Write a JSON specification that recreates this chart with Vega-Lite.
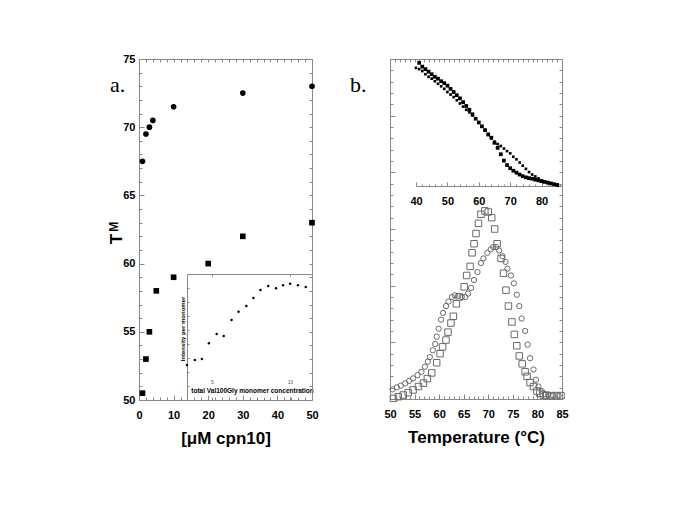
{
  "$schema": "https://vega.github.io/schema/vega-lite/v6.json",
  "width": 685,
  "height": 513,
  "autosize": {"type": "none"},
  "padding": 0,
  "background": "white",
  "config": {
    "view": {"stroke": null},
    "axis": {"domainColor": "#888", "tickColor": "#888", "labelColor": "#000", "labelFont": "Liberation Sans", "labelFontWeight": "bold", "labelFontSize": 11, "titleFont": "Liberation Sans", "titleFontWeight": "bold", "titleColor": "#000", "grid": false, "labelFlush": false, "labelOverlap": false, "minExtent": 0}
  },
  "datasets": {
    "pa": [
      {"c": 1, "tm": 67.5, "s": "A"}, {"c": 2, "tm": 69.5, "s": "A"}, {"c": 3, "tm": 70, "s": "A"}, {"c": 4, "tm": 70.5, "s": "A"}, {"c": 10, "tm": 71.5, "s": "A"}, {"c": 30, "tm": 72.5, "s": "A"}, {"c": 50, "tm": 73, "s": "A"},
      {"c": 1, "tm": 50.5, "s": "B"}, {"c": 2, "tm": 53, "s": "B"}, {"c": 3, "tm": 55, "s": "B"}, {"c": 5, "tm": 58, "s": "B"}, {"c": 10, "tm": 59, "s": "B"}, {"c": 20, "tm": 60, "s": "B"}, {"c": 30, "tm": 62, "s": "B"}, {"c": 50, "tm": 63, "s": "B"}
    ],
    "pai": [
      {"x": 3.4, "y": 2.5}, {"x": 3.9, "y": 2.86}, {"x": 4.35, "y": 2.93}, {"x": 4.8, "y": 4.05}, {"x": 5.3, "y": 4.71}, {"x": 5.75, "y": 4.57}, {"x": 6.25, "y": 5.71}, {"x": 6.7, "y": 6.31}, {"x": 7.2, "y": 6.71}, {"x": 7.65, "y": 7.29}, {"x": 8.1, "y": 7.86}, {"x": 8.6, "y": 8.14}, {"x": 9.1, "y": 7.98}, {"x": 9.55, "y": 8.19}, {"x": 10.0, "y": 8.31}, {"x": 10.5, "y": 8.19}, {"x": 11.0, "y": 8.07}
    ],
    "pb": [
      {"t": 50.7, "v": 0.06, "s": "sq"}, {"t": 51.7, "v": 0.2, "s": "sq"}, {"t": 52.7, "v": 0.35, "s": "sq"}, {"t": 53.7, "v": 0.56, "s": "sq"}, {"t": 54.7, "v": 0.8, "s": "sq"}, {"t": 55.8, "v": 1.1, "s": "sq"}, {"t": 56.8, "v": 1.4, "s": "sq"}, {"t": 57.6, "v": 1.8, "s": "sq"}, {"t": 58.5, "v": 2.3, "s": "sq"}, {"t": 59.5, "v": 3.2, "s": "sq"}, {"t": 60.2, "v": 4.0, "s": "sq"}, {"t": 60.7, "v": 4.6, "s": "sq"}, {"t": 61.4, "v": 5.2, "s": "sq"}, {"t": 61.8, "v": 5.9, "s": "sq"}, {"t": 62.4, "v": 6.7, "s": "sq"}, {"t": 62.9, "v": 7.3, "s": "sq"}, {"t": 63.5, "v": 8.4, "s": "sq"}, {"t": 64.1, "v": 9.0, "s": "sq"}, {"t": 65.1, "v": 9.9, "s": "sq"}, {"t": 65.6, "v": 10.9, "s": "sq"}, {"t": 66.3, "v": 11.7, "s": "sq"}, {"t": 66.7, "v": 12.9, "s": "sq"}, {"t": 67.1, "v": 13.7, "s": "sq"}, {"t": 67.5, "v": 14.6, "s": "sq"}, {"t": 68.0, "v": 15.5, "s": "sq"}, {"t": 68.5, "v": 16.3, "s": "sq"}, {"t": 69.3, "v": 16.6, "s": "sq"}, {"t": 70.0, "v": 16.5, "s": "sq"}, {"t": 70.7, "v": 16.0, "s": "sq"}, {"t": 71.3, "v": 15.0, "s": "sq"}, {"t": 71.8, "v": 13.7, "s": "sq"}, {"t": 72.6, "v": 12.4, "s": "sq"}, {"t": 73.1, "v": 11.1, "s": "sq"}, {"t": 73.6, "v": 9.6, "s": "sq"}, {"t": 74.1, "v": 8.2, "s": "sq"}, {"t": 74.8, "v": 6.8, "s": "sq"}, {"t": 75.3, "v": 5.7, "s": "sq"}, {"t": 75.8, "v": 4.7, "s": "sq"}, {"t": 76.3, "v": 3.8, "s": "sq"}, {"t": 76.9, "v": 3.1, "s": "sq"}, {"t": 77.5, "v": 2.4, "s": "sq"}, {"t": 77.9, "v": 2.0, "s": "sq"}, {"t": 78.5, "v": 1.45, "s": "sq"}, {"t": 79.2, "v": 1.1, "s": "sq"}, {"t": 79.9, "v": 0.7, "s": "sq"}, {"t": 80.5, "v": 0.5, "s": "sq"}, {"t": 81.2, "v": 0.35, "s": "sq"}, {"t": 81.9, "v": 0.3, "s": "sq"}, {"t": 82.9, "v": 0.3, "s": "sq"}, {"t": 83.9, "v": 0.3, "s": "sq"}, {"t": 84.8, "v": 0.3, "s": "sq"},
      {"t": 50.5, "v": 0.85, "s": "ci"}, {"t": 51.4, "v": 1.03, "s": "ci"}, {"t": 52.2, "v": 1.18, "s": "ci"}, {"t": 53.1, "v": 1.38, "s": "ci"}, {"t": 53.9, "v": 1.6, "s": "ci"}, {"t": 54.7, "v": 1.82, "s": "ci"}, {"t": 55.6, "v": 2.1, "s": "ci"}, {"t": 56.4, "v": 2.4, "s": "ci"}, {"t": 57.1, "v": 2.85, "s": "ci"}, {"t": 57.7, "v": 3.3, "s": "ci"}, {"t": 58.1, "v": 3.7, "s": "ci"}, {"t": 58.7, "v": 4.3, "s": "ci"}, {"t": 59.2, "v": 4.85, "s": "ci"}, {"t": 59.5, "v": 5.5, "s": "ci"}, {"t": 59.9, "v": 6.2, "s": "ci"}, {"t": 60.4, "v": 7.0, "s": "ci"}, {"t": 60.8, "v": 7.6, "s": "ci"}, {"t": 61.4, "v": 8.2, "s": "ci"}, {"t": 61.9, "v": 8.6, "s": "ci"}, {"t": 62.6, "v": 9.0, "s": "ci"}, {"t": 63.2, "v": 9.15, "s": "ci"}, {"t": 63.9, "v": 9.1, "s": "ci"}, {"t": 64.6, "v": 9.0, "s": "ci"}, {"t": 65.3, "v": 9.0, "s": "ci"}, {"t": 65.9, "v": 9.3, "s": "ci"}, {"t": 66.5, "v": 9.8, "s": "ci"}, {"t": 67.1, "v": 10.5, "s": "ci"}, {"t": 67.8, "v": 11.2, "s": "ci"}, {"t": 68.5, "v": 12.0, "s": "ci"}, {"t": 69.0, "v": 12.4, "s": "ci"}, {"t": 69.8, "v": 12.9, "s": "ci"}, {"t": 70.5, "v": 13.2, "s": "ci"}, {"t": 71.0, "v": 13.4, "s": "ci"}, {"t": 71.6, "v": 13.4, "s": "ci"}, {"t": 72.2, "v": 13.1, "s": "ci"}, {"t": 72.9, "v": 12.6, "s": "ci"}, {"t": 73.5, "v": 12.1, "s": "ci"}, {"t": 73.9, "v": 11.5, "s": "ci"}, {"t": 74.6, "v": 10.9, "s": "ci"}, {"t": 75.2, "v": 10.2, "s": "ci"}, {"t": 75.8, "v": 9.2, "s": "ci"}, {"t": 76.3, "v": 8.2, "s": "ci"}, {"t": 76.8, "v": 7.1, "s": "ci"}, {"t": 77.5, "v": 6.0, "s": "ci"}, {"t": 78.0, "v": 4.8, "s": "ci"}, {"t": 78.5, "v": 3.6, "s": "ci"}, {"t": 79.2, "v": 2.6, "s": "ci"}, {"t": 79.7, "v": 1.7, "s": "ci"}, {"t": 80.2, "v": 1.1, "s": "ci"}, {"t": 80.9, "v": 0.7, "s": "ci"}, {"t": 81.5, "v": 0.45, "s": "ci"}, {"t": 82.2, "v": 0.4, "s": "ci"}, {"t": 83.2, "v": 0.3, "s": "ci"}, {"t": 84.3, "v": 0.3, "s": "ci"}
    ],
    "pbt": [
      {"t": 41, "v": 0.97, "s": "A"}, {"t": 42, "v": 0.94, "s": "A"}, {"t": 43, "v": 0.92, "s": "A"}, {"t": 44, "v": 0.9, "s": "A"}, {"t": 45, "v": 0.88, "s": "A"}, {"t": 46, "v": 0.86, "s": "A"}, {"t": 47, "v": 0.845, "s": "A"}, {"t": 48, "v": 0.825, "s": "A"}, {"t": 49, "v": 0.81, "s": "A"}, {"t": 50, "v": 0.79, "s": "A"}, {"t": 51, "v": 0.765, "s": "A"}, {"t": 52, "v": 0.74, "s": "A"}, {"t": 53, "v": 0.715, "s": "A"}, {"t": 54, "v": 0.69, "s": "A"}, {"t": 55, "v": 0.66, "s": "A"}, {"t": 56, "v": 0.63, "s": "A"}, {"t": 57, "v": 0.6, "s": "A"}, {"t": 58, "v": 0.565, "s": "A"}, {"t": 59, "v": 0.53, "s": "A"}, {"t": 60, "v": 0.5, "s": "A"}, {"t": 61, "v": 0.47, "s": "A"}, {"t": 62, "v": 0.44, "s": "A"}, {"t": 63, "v": 0.405, "s": "A"}, {"t": 64, "v": 0.38, "s": "A"}, {"t": 65, "v": 0.34, "s": "A"}, {"t": 66, "v": 0.3, "s": "A"}, {"t": 67, "v": 0.25, "s": "A"}, {"t": 68, "v": 0.2, "s": "A"}, {"t": 69, "v": 0.165, "s": "A"}, {"t": 70, "v": 0.14, "s": "A"}, {"t": 71, "v": 0.12, "s": "A"}, {"t": 72, "v": 0.105, "s": "A"}, {"t": 73, "v": 0.09, "s": "A"}, {"t": 74, "v": 0.077, "s": "A"}, {"t": 75, "v": 0.068, "s": "A"}, {"t": 76, "v": 0.062, "s": "A"}, {"t": 77, "v": 0.057, "s": "A"}, {"t": 78, "v": 0.05, "s": "A"}, {"t": 79, "v": 0.044, "s": "A"}, {"t": 80, "v": 0.038, "s": "A"}, {"t": 81, "v": 0.032, "s": "A"}, {"t": 82, "v": 0.026, "s": "A"}, {"t": 83, "v": 0.02, "s": "A"}, {"t": 84, "v": 0.014, "s": "A"}, {"t": 85, "v": 0.008, "s": "A"},
      {"t": 40, "v": 0.93, "s": "B"}, {"t": 41, "v": 0.92, "s": "B"}, {"t": 42, "v": 0.905, "s": "B"}, {"t": 43, "v": 0.88, "s": "B"}, {"t": 44, "v": 0.86, "s": "B"}, {"t": 45, "v": 0.845, "s": "B"}, {"t": 46, "v": 0.825, "s": "B"}, {"t": 47, "v": 0.805, "s": "B"}, {"t": 48, "v": 0.785, "s": "B"}, {"t": 49, "v": 0.765, "s": "B"}, {"t": 50, "v": 0.74, "s": "B"}, {"t": 51, "v": 0.72, "s": "B"}, {"t": 52, "v": 0.7, "s": "B"}, {"t": 53, "v": 0.675, "s": "B"}, {"t": 54, "v": 0.65, "s": "B"}, {"t": 55, "v": 0.625, "s": "B"}, {"t": 56, "v": 0.6, "s": "B"}, {"t": 57, "v": 0.58, "s": "B"}, {"t": 58, "v": 0.555, "s": "B"}, {"t": 59, "v": 0.53, "s": "B"}, {"t": 60, "v": 0.5, "s": "B"}, {"t": 61, "v": 0.47, "s": "B"}, {"t": 62, "v": 0.44, "s": "B"}, {"t": 63, "v": 0.41, "s": "B"}, {"t": 64, "v": 0.375, "s": "B"}, {"t": 65, "v": 0.35, "s": "B"}, {"t": 66, "v": 0.33, "s": "B"}, {"t": 67, "v": 0.315, "s": "B"}, {"t": 68, "v": 0.295, "s": "B"}, {"t": 69, "v": 0.275, "s": "B"}, {"t": 70, "v": 0.257, "s": "B"}, {"t": 71, "v": 0.23, "s": "B"}, {"t": 72, "v": 0.21, "s": "B"}, {"t": 73, "v": 0.185, "s": "B"}, {"t": 74, "v": 0.16, "s": "B"}, {"t": 75, "v": 0.135, "s": "B"}, {"t": 76, "v": 0.11, "s": "B"}, {"t": 77, "v": 0.09, "s": "B"}, {"t": 78, "v": 0.075, "s": "B"}, {"t": 79, "v": 0.06, "s": "B"}, {"t": 80, "v": 0.045, "s": "B"}, {"t": 81, "v": 0.035, "s": "B"}, {"t": 82, "v": 0.025, "s": "B"}, {"t": 83, "v": 0.018, "s": "B"}, {"t": 84, "v": 0.012, "s": "B"}, {"t": 85, "v": 0.008, "s": "B"}
    ]
  },
  "resolve": {
    "scale": {"x": "independent", "y": "independent", "shape": "independent", "size": "independent"},
    "axis": {"x": "independent", "y": "independent"}
  },
  "layer": [
    {
      "data": {"name": "pa"},
      "mark": {"type": "point", "filled": true, "color": "#000", "opacity": 1, "size": 32},
      "encoding": {
        "x": {"field": "c", "type": "quantitative", "scale": {"domain": [0, 50], "range": [139, 312], "nice": false, "zero": false},
          "axis": {"orient": "bottom", "offset": -113, "values": [0, 10, 20, 30, 40, 50], "tickSize": -5, "labelPadding": 14, "title": "[μM cpn10]", "titleFontSize": 17, "titlePadding": 10}},
        "y": {"field": "tm", "type": "quantitative", "scale": {"domain": [50, 75], "range": [400, 59], "nice": false, "zero": false},
          "axis": {"orient": "left", "offset": -139, "values": [50, 55, 60, 65, 70, 75], "tickSize": -5, "labelPadding": 9, "title": null}},
        "shape": {"field": "s", "type": "nominal", "scale": {"domain": ["A", "B"], "range": ["circle", "square"]}, "legend": null}
      }
    },
    {
      "data": {"name": "pa"},
      "mark": {"type": "point", "opacity": 0},
      "encoding": {
        "x": {"field": "c", "type": "quantitative", "scale": {"domain": [0, 50], "range": [139, 312], "nice": false, "zero": false},
          "axis": {"orient": "bottom", "offset": -113, "values": [2, 4, 6, 8, 12, 14, 16, 18, 22, 24, 26, 28, 32, 34, 36, 38, 42, 44, 46, 48], "tickSize": -3, "labels": false, "domain": false, "title": null}},
        "y": {"field": "tm", "type": "quantitative", "scale": {"domain": [50, 75], "range": [400, 59], "nice": false, "zero": false},
          "axis": {"orient": "left", "offset": -139, "values": [51, 52, 53, 54, 56, 57, 58, 59, 61, 62, 63, 64, 66, 67, 68, 69, 71, 72, 73, 74], "tickSize": -3, "labels": false, "domain": false, "title": null}}
      }
    },
    {
      "data": {"name": "pa"},
      "mark": {"type": "point", "opacity": 0},
      "encoding": {
        "x": {"field": "c", "type": "quantitative", "scale": {"domain": [0, 50], "range": [139, 312], "nice": false, "zero": false},
          "axis": {"orient": "top", "offset": -59, "values": [0, 2, 4, 6, 8, 10, 12, 14, 16, 18, 20, 22, 24, 26, 28, 30, 32, 34, 36, 38, 40, 42, 44, 46, 48, 50], "tickSize": -3, "labels": false, "title": null}},
        "y": {"field": "tm", "type": "quantitative", "scale": {"domain": [50, 75], "range": [400, 59], "nice": false, "zero": false},
          "axis": {"orient": "right", "offset": -373, "values": [50, 51, 52, 53, 54, 55, 56, 57, 58, 59, 60, 61, 62, 63, 64, 65, 66, 67, 68, 69, 70, 71, 72, 73, 74, 75], "tickSize": -3, "labels": false, "title": null}}
      }
    },
    {
      "data": {"name": "pai"},
      "mark": {"type": "point", "filled": true, "color": "#000", "opacity": 1, "size": 6},
      "encoding": {
        "x": {"field": "x", "type": "quantitative", "scale": {"domain": [3.4, 11.4], "range": [187, 312], "nice": false, "zero": false},
          "axis": {"orient": "bottom", "offset": -113, "values": [5, 10], "tickSize": -3, "labelPadding": -15.5, "labelBaseline": "middle", "labelFontSize": 5, "labelFontWeight": "normal", "labelColor": "#555", "domain": false, "title": "total Val100Gly monomer concentration", "titleFontSize": 6.5, "titleBaseline": "middle", "titleY": -10, "titleX": 252}},
        "y": {"field": "y", "type": "quantitative", "scale": {"domain": [0, 9], "range": [400, 274], "nice": false, "zero": false},
          "axis": {"orient": "left", "offset": -187, "values": [0, 1, 2, 3, 4, 5, 6, 7, 8, 9], "tickSize": -2, "labels": false, "title": "Intensity per monomer", "titleFontSize": 6, "titleAngle": 270, "titleBaseline": "bottom", "titleX": -2, "titleY": 328.5}}
      }
    },
    {
      "data": {"name": "pai"},
      "mark": {"type": "point", "opacity": 0},
      "encoding": {
        "x": {"field": "x", "type": "quantitative", "scale": {"domain": [3.4, 11.4], "range": [187, 312], "nice": false, "zero": false},
          "axis": {"orient": "top", "offset": -274, "values": [5, 10], "tickSize": -2, "labels": false, "title": null}}
      }
    },
    {
      "data": {"name": "pb"},
      "mark": {"type": "point", "filled": false, "color": "#6a6a6a", "strokeWidth": 1, "opacity": 1},
      "encoding": {
        "x": {"field": "t", "type": "quantitative", "scale": {"domain": [50, 85], "range": [390, 562], "nice": false, "zero": false},
          "axis": {"orient": "bottom", "offset": -114, "values": [50, 55, 60, 65, 70, 75, 80, 85], "tickSize": -5, "labelPadding": 14, "title": "Temperature (°C)", "titleFontSize": 17, "titlePadding": 10}},
        "y": {"field": "v", "type": "quantitative", "scale": {"domain": [0, 30], "range": [399, 59], "nice": false, "zero": false},
          "axis": {"orient": "left", "offset": -390, "values": [0, 5, 10, 15, 20, 25, 30], "tickSize": -5, "labels": false, "title": null}},
        "shape": {"field": "s", "type": "nominal", "scale": {"domain": ["sq", "ci"], "range": ["square", "circle"]}, "legend": null},
        "size": {"field": "s", "type": "nominal", "scale": {"domain": ["sq", "ci"], "range": [42, 28]}, "legend": null}
      }
    },
    {
      "data": {"name": "pb"},
      "mark": {"type": "point", "opacity": 0},
      "encoding": {
        "x": {"field": "t", "type": "quantitative", "scale": {"domain": [50, 85], "range": [390, 562], "nice": false, "zero": false},
          "axis": {"orient": "bottom", "offset": -114, "values": [51, 52, 53, 54, 56, 57, 58, 59, 61, 62, 63, 64, 66, 67, 68, 69, 71, 72, 73, 74, 76, 77, 78, 79, 81, 82, 83, 84], "tickSize": -3, "labels": false, "domain": false, "title": null}},
        "y": {"field": "v", "type": "quantitative", "scale": {"domain": [0, 30], "range": [399, 59], "nice": false, "zero": false},
          "axis": {"orient": "left", "offset": -390, "values": [1, 2, 3, 4, 6, 7, 8, 9, 11, 12, 13, 14, 16, 17, 18, 19, 21, 22, 23, 24, 26, 27, 28, 29], "tickSize": -3, "labels": false, "domain": false, "title": null}}
      }
    },
    {
      "data": {"name": "pb"},
      "mark": {"type": "point", "opacity": 0},
      "encoding": {
        "x": {"field": "t", "type": "quantitative", "scale": {"domain": [50, 85], "range": [390, 562], "nice": false, "zero": false},
          "axis": {"orient": "top", "offset": -59, "values": [50, 51, 52, 53, 54, 55, 56, 57, 58, 59, 60, 61, 62, 63, 64, 65, 66, 67, 68, 69, 70, 71, 72, 73, 74, 75, 76, 77, 78, 79, 80, 81, 82, 83, 84, 85], "tickSize": -3, "labels": false, "title": null}},
        "y": {"field": "v", "type": "quantitative", "scale": {"domain": [0, 30], "range": [399, 59], "nice": false, "zero": false},
          "axis": {"orient": "right", "offset": -123, "values": [0, 1, 2, 3, 4, 5, 6, 7, 8, 9, 10, 11, 12, 13, 14, 15, 16, 17, 18, 19, 20, 21, 22, 23, 24, 25, 26, 27, 28, 29, 30], "tickSize": -3, "labels": false, "title": null}}
      }
    },
    {
      "data": {"name": "pbt"},
      "mark": {"type": "point", "filled": true, "shape": "square", "color": "#000", "opacity": 1},
      "encoding": {
        "x": {"field": "t", "type": "quantitative", "scale": {"domain": [40, 86.5], "range": [416, 562], "nice": false, "zero": false},
          "axis": {"orient": "bottom", "offset": -327, "values": [40, 50, 60, 70, 80], "tickSize": -4, "labelPadding": 13, "title": null}},
        "y": {"field": "v", "type": "quantitative", "scale": {"domain": [0, 1], "range": [186, 59], "nice": false, "zero": false}, "axis": null},
        "size": {"field": "s", "type": "nominal", "scale": {"domain": ["A", "B"], "range": [14, 7]}, "legend": null}
      }
    },
    {
      "data": {"name": "pbt"},
      "mark": {"type": "point", "opacity": 0},
      "encoding": {
        "x": {"field": "t", "type": "quantitative", "scale": {"domain": [40, 86.5], "range": [416, 562], "nice": false, "zero": false},
          "axis": {"orient": "bottom", "offset": -327, "values": [42, 44, 46, 48, 52, 54, 56, 58, 62, 64, 66, 68, 72, 74, 76, 78, 82, 84, 86], "tickSize": -2, "labels": false, "domain": false, "title": null}}
      }
    },
    {
      "data": {"values": [{"label": "a.", "x": -8.4, "y": 72.6}]},
      "mark": {"type": "text", "font": "Liberation Serif", "fontSize": 22, "align": "left", "baseline": "alphabetic", "color": "#000"},
      "encoding": {
        "x": {"field": "x", "type": "quantitative", "scale": {"domain": [0, 50], "range": [139, 312], "nice": false, "zero": false}, "axis": null},
        "y": {"field": "y", "type": "quantitative", "scale": {"domain": [50, 75], "range": [400, 59], "nice": false, "zero": false}, "axis": null},
        "text": {"field": "label"}
      }
    },
    {
      "data": {"values": [{"label": "T", "x": -4.9, "y": 61.8}]},
      "mark": {"type": "text", "font": "Liberation Sans", "fontWeight": "bold", "fontSize": 17, "angle": 270, "align": "center", "baseline": "alphabetic", "color": "#000"},
      "encoding": {
        "x": {"field": "x", "type": "quantitative", "scale": {"domain": [0, 50], "range": [139, 312], "nice": false, "zero": false}, "axis": null},
        "y": {"field": "y", "type": "quantitative", "scale": {"domain": [50, 75], "range": [400, 59], "nice": false, "zero": false}, "axis": null},
        "text": {"field": "label"}
      }
    },
    {
      "data": {"values": [{"label": "M", "x": -6.0, "y": 62.7}]},
      "mark": {"type": "text", "font": "Liberation Sans", "fontWeight": "bold", "fontSize": 12, "angle": 270, "align": "center", "baseline": "alphabetic", "color": "#000"},
      "encoding": {
        "x": {"field": "x", "type": "quantitative", "scale": {"domain": [0, 50], "range": [139, 312], "nice": false, "zero": false}, "axis": null},
        "y": {"field": "y", "type": "quantitative", "scale": {"domain": [50, 75], "range": [400, 59], "nice": false, "zero": false}, "axis": null},
        "text": {"field": "label"}
      }
    },
    {
      "data": {"values": [{"label": "b.", "x": 41.86, "y": 27.12}]},
      "mark": {"type": "text", "font": "Liberation Serif", "fontSize": 22, "align": "left", "baseline": "alphabetic", "color": "#000"},
      "encoding": {
        "x": {"field": "x", "type": "quantitative", "scale": {"domain": [50, 85], "range": [390, 562], "nice": false, "zero": false}, "axis": null},
        "y": {"field": "y", "type": "quantitative", "scale": {"domain": [0, 30], "range": [399, 59], "nice": false, "zero": false}, "axis": null},
        "text": {"field": "label"}
      }
    }
  ]
}
